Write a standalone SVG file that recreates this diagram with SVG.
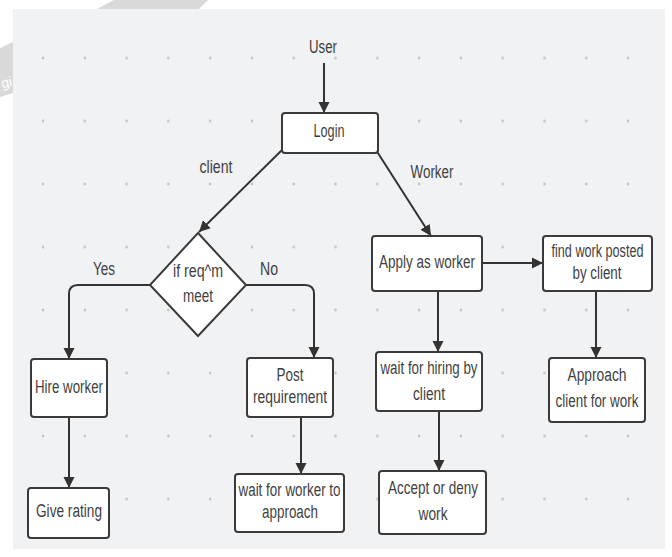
<svg xmlns="http://www.w3.org/2000/svg" width="672" height="557" viewBox="0 0 672 557">
<defs>
<pattern id="dots" patternUnits="userSpaceOnUse" x="22.1" y="26.5" width="41.79" height="63">
<circle cx="20.9" cy="31.5" r="1.2" fill="#b9b9b9"/>
</pattern>
<marker id="arr" markerUnits="userSpaceOnUse" markerWidth="12" markerHeight="12" refX="11" refY="6" orient="auto">
<path d="M0,0.5 L11,6 L0,11.5 Z" fill="#333"/>
</marker>
<style>
.box{fill:#fff;stroke:#3a3a3a;stroke-width:2}
.t{font-family:"Liberation Sans Narrow","Liberation Sans",Arial,sans-serif;font-size:18px;fill:#3f3f3f;text-anchor:middle}
.c{fill:none;stroke:#333;stroke-width:2;marker-end:url(#arr)}
.wm{fill:#d9d9d9}
</style>
</defs>
<rect x="0" y="0" width="672" height="557" fill="#fff"/>
<g id="watermark">
<polygon class="wm" points="0,48 13,42 13,93 0,97"/>
<text x="1" y="87" font-family="Liberation Sans, sans-serif" font-size="14" fill="#fff" transform="rotate(-12 7 82)">gi</text>
<polygon class="wm" points="97,9 114,0 208,0 199,9"/>
</g>
<rect x="13" y="9" width="652" height="540" fill="#f1f2f4"/>
<rect x="13" y="9" width="652" height="540" fill="url(#dots)"/>

<g id="connectors">
<path class="c" d="M324 63 V113"/>
<path class="c" d="M282 150 L199 232"/>
<path class="c" d="M376 150 L431 236"/>
<path class="c" d="M150 285 H78 Q69 285 69 294 V359"/>
<path class="c" d="M246 285 H305 Q314 285 314 294 V358"/>
<path class="c" d="M69 417 V488"/>
<path class="c" d="M301 417 V474"/>
<path class="c" d="M482 263 H543"/>
<path class="c" d="M438 291 V352"/>
<path class="c" d="M439 411 V471"/>
<path class="c" d="M596 291 V358"/>
</g>
<g id="labels">
<text class="t" x="216" y="173" textLength="33" lengthAdjust="spacingAndGlyphs">client</text>
<text class="t" x="432" y="178" textLength="43" lengthAdjust="spacingAndGlyphs">Worker</text>
<text class="t" x="104" y="275" textLength="22" lengthAdjust="spacingAndGlyphs">Yes</text>
<text class="t" x="269" y="275" textLength="18" lengthAdjust="spacingAndGlyphs">No</text>
</g>

<g id="user"><text class="t" x="323" y="53" textLength="28" lengthAdjust="spacingAndGlyphs">User</text></g>
<g id="login"><rect class="box" x="282" y="113" width="96" height="40" rx="3"/><text class="t" x="329" y="137" textLength="31" lengthAdjust="spacingAndGlyphs">Login</text></g>
<g id="decision"><polygon class="box" points="198,233 246,285 198,336 150,285"/>
<text class="t" x="198" y="277" textLength="50" lengthAdjust="spacingAndGlyphs">if req^m</text>
<text class="t" x="198" y="302" textLength="30" lengthAdjust="spacingAndGlyphs">meet</text></g>
<g id="hire"><rect class="box" x="31" y="359" width="76" height="58" rx="3"/><text class="t" x="69" y="393" textLength="68" lengthAdjust="spacingAndGlyphs">Hire worker</text></g>
<g id="rating"><rect class="box" x="28" y="488" width="81" height="50" rx="3"/><text class="t" x="69" y="517" textLength="66" lengthAdjust="spacingAndGlyphs">Give rating</text></g>
<g id="post"><rect class="box" x="247" y="358" width="86" height="59" rx="3"/>
<text class="t" x="290" y="381" textLength="27" lengthAdjust="spacingAndGlyphs">Post</text>
<text class="t" x="290" y="403" textLength="74" lengthAdjust="spacingAndGlyphs">requirement</text></g>
<g id="waitworker"><rect class="box" x="235" y="474" width="109" height="58" rx="3"/>
<text class="t" x="289.5" y="496" textLength="102" lengthAdjust="spacingAndGlyphs">wait for worker to</text>
<text class="t" x="290" y="518" textLength="56" lengthAdjust="spacingAndGlyphs">approach</text></g>
<g id="apply"><rect class="box" x="372" y="236" width="110" height="55" rx="3"/>
<text class="t" x="427" y="268" textLength="96" lengthAdjust="spacingAndGlyphs">Apply as worker</text></g>
<g id="findwork"><rect class="box" x="543" y="236" width="109" height="55" rx="3"/>
<text class="t" x="597.5" y="257" font-size="17" textLength="92" lengthAdjust="spacingAndGlyphs">find work posted</text>
<text class="t" x="597" y="279" textLength="49" lengthAdjust="spacingAndGlyphs">by client</text></g>
<g id="waithiring"><rect class="box" x="376" y="352" width="106" height="59" rx="3"/>
<text class="t" x="429" y="374" textLength="97" lengthAdjust="spacingAndGlyphs">wait for hiring by</text>
<text class="t" x="429" y="400" textLength="32" lengthAdjust="spacingAndGlyphs">client</text></g>
<g id="accept"><rect class="box" x="379" y="471" width="107" height="63" rx="3"/>
<text class="t" x="433" y="494" textLength="90" lengthAdjust="spacingAndGlyphs">Accept or deny</text>
<text class="t" x="433" y="520" textLength="29" lengthAdjust="spacingAndGlyphs">work</text></g>
<g id="approach"><rect class="box" x="549" y="358" width="96" height="64" rx="3"/>
<text class="t" x="597" y="381" textLength="59" lengthAdjust="spacingAndGlyphs">Approach</text>
<text class="t" x="597" y="407" textLength="83" lengthAdjust="spacingAndGlyphs">client for work</text></g>
</svg>
